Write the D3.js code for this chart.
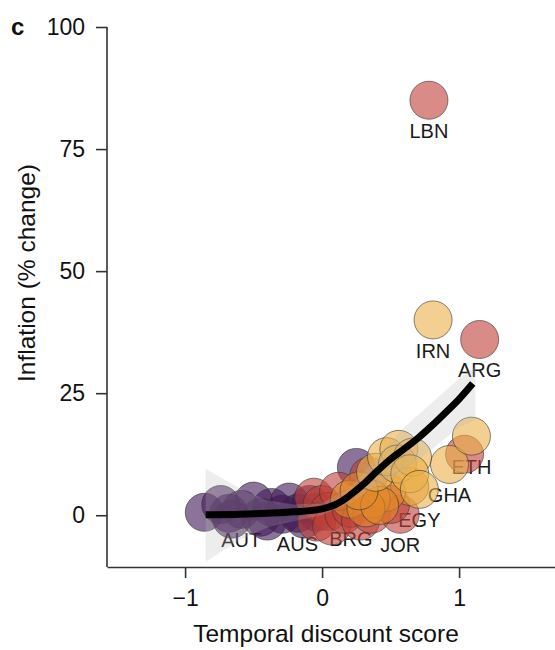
<!DOCTYPE html>
<html>
<head>
<meta charset="utf-8">
<script src="https://cdn.jsdelivr.net/npm/d3@7"></script>
<style>
  body { margin: 0; background: #fff; }
  svg text { font-family: "Liberation Sans", Arial, Helvetica, sans-serif; fill: #111; }
</style>
</head>
<body>
<svg id="chart" width="555" height="650"></svg>
<script>
// country points: temporal discount score (x) vs inflation (y)
const pointX = [
  -0.86, -0.74, -0.68, -0.66, -0.59, -0.50, -0.45, -0.40, -0.37, -0.29, -0.24, -0.18, -0.13, -0.09, -0.04, 0.25,
  -0.06, 0.00, 0.05, -0.04, 0.07, 0.16, 0.21, 0.28, 0.36, 0.57, 0.50, 0.12, 0.34, 1.04, 0.78, 1.15,
  0.64, 0.47, 0.36, 0.20, 0.32, 0.42, 0.27,
  0.81, 0.93, 1.09, 0.39, 0.47, 0.56, 0.55, 0.66, 0.64, 0.71
];
const pointY = [
  0.6, 2.2, 0.4, -0.8, 1.2, 2.9, -0.4, -1.2, 1.6, 0.2, 2.7, 0.4, -0.8, 2.2, 0.6, 9.8,
  3.7, 2.2, 0.8, -1.4, -2.2, 0.2, 1.4, -1.2, 0.2, 0.2, 2.2, 4.9, 8.0, 12.5, 85, 36,
  5.9, 4.7, 3.3, 3.3, 1.5, 2.0, 5.0,
  40, 10.4, 16.2, 8.8, 12.0, 13.5, 10.5, 11.9, 8.5, 5.3
];
const pointGroup = [
  "p","p","p","p","p","p","p","p","p","p","p","p","p","p","p","p",
  "r","r","r","r","r","r","r","r","r","r","r","r","r","r","r","r",
  "o","o","o","o","o","o","o",
  "y","y","y","y","y","y","y","y","y","y"
];
const pointLabel = [
  "","","","","AUT","","","","","","","AUS","","","","",
  "","","","","","","BRG","","","JOR","","","","","LBN","ARG",
  "","","","","","","",
  "IRN","GHA","ETH","","","","","","","EGY"
];

// smoothed fit and its confidence band
const fitX = [-0.85, -0.6, -0.4, -0.2, 0, 0.1, 0.2, 0.3, 0.4, 0.5, 0.6, 0.7, 0.8, 0.9, 1.0, 1.1];
const fitY = [0.1, 0.2, 0.4, 0.7, 1.3, 2.2, 4.0, 6.3, 9.0, 11.5, 13.6, 15.8, 18.3, 21.0, 23.8, 27.0];
const bandX = [-0.85, -0.6, -0.4, -0.2, 0, 0.2, 0.4, 0.6, 0.8, 1.0, 1.12];
const bandHi = [9.5, 5.5, 3.0, 2.2, 2.5, 5.5, 12.0, 18.0, 23.0, 28.0, 30.5];
const bandLo = [-9.5, -5.0, -2.5, -1.2, 0.0, 2.5, 6.0, 9.0, 13.5, 18.0, 19.5];

const xTicks = [-1, 0, 1];
const yTicks = [0, 25, 50, 75, 100];

const groupColor = {p: "#3f1655", r: "#c03f37", o: "#e3892a", y: "#ebb149"};

const svg = d3.select("#chart");
const padding = {top: 27, right: 0, bottom: 83, left: 107};
const width = 555, height = 650;

let x = d3.scaleLinear()
  .domain([-1.57, 1.70])
  .range([padding.left, width - padding.right]);
let y = d3.scaleLinear()
  .domain([-10.6, 100])
  .range([height - padding.bottom, padding.top]);

const data = pointX.map((d, i) => ({x: d, y: pointY[i], g: pointGroup[i], label: pointLabel[i]}));

// labels sit under the bubbles
svg.selectAll(".lab")
  .data(data.filter(d => d.label !== ""))
  .join("text")
    .attr("class", "lab")
    .attr("x", d => x(d.x))
    .attr("y", d => y(d.y - 6.3))
    .attr("dy", "0.36em")
    .attr("text-anchor", "middle")
    .attr("font-size", 20)
    .style("fill", "#1a1a1a")
    .text(d => d.label);

svg.selectAll(".pt")
  .data(data)
  .join("circle")
    .attr("class", "pt")
    .attr("cx", d => x(d.x))
    .attr("cy", d => y(d.y))
    .attr("r", 19)
    .attr("fill", d => groupColor[d.g])
    .attr("fill-opacity", 0.6)
    .attr("stroke", "#333")
    .attr("stroke-opacity", 0.6)
    .attr("stroke-width", 1);

// confidence band
const bandPts = bandX.map((d, i) => [d, bandHi[i]])
  .concat(bandX.map((d, i) => [d, bandLo[i]]).reverse());
svg.append("path")
  .attr("d", d3.line().x(d => x(d[0])).y(d => y(d[1]))(bandPts) + "Z")
  .attr("fill", "#b8b8b8")
  .attr("fill-opacity", 0.25);

// fitted line
svg.append("path")
  .datum(fitX.map((d, i) => [d, fitY[i]]))
  .attr("fill", "none")
  .attr("stroke", "#000")
  .attr("stroke-width", 7)
  .attr("d", d3.line().curve(d3.curveMonotoneX).x(d => x(d[0])).y(d => y(d[1])));

// axes
const yAxis = svg.append("g")
  .attr("transform", "translate(" + padding.left + ",0)")
  .call(d3.axisLeft(y).tickValues(yTicks).tickSize(11).tickPadding(11).tickSizeOuter(0));
const xAxis = svg.append("g")
  .attr("transform", "translate(0," + (height - padding.bottom) + ")")
  .call(d3.axisBottom(x).tickValues(xTicks).tickSize(11).tickPadding(12).tickSizeOuter(0)
    .tickFormat(d => d < 0 ? "\u2212" + Math.abs(d) : d));

[xAxis, yAxis].forEach(a => {
  a.select(".domain").attr("stroke", "#333").attr("stroke-width", 1.6);
  a.selectAll(".tick line").attr("stroke", "#333").attr("stroke-width", 1.6);
  a.selectAll(".tick text").attr("font-size", 23).style("fill", "#111")
    .attr("font-family", "'Liberation Sans', Arial, sans-serif");
});
// left axis line reaches down to the bottom of the panel
yAxis.select(".domain").attr("d", "M0," + y(100) + "V" + (height - padding.bottom));

// titles
svg.append("text")
  .attr("x", 11)
  .attr("y", 35)
  .attr("font-size", 24)
  .attr("font-weight", "bold")
  .text("c");

svg.append("text")
  .attr("transform", "rotate(-90)")
  .attr("x", -273)
  .attr("y", 35)
  .attr("text-anchor", "middle")
  .attr("font-size", 24.5)
  .text("Inflation (% change)");

svg.append("text")
  .attr("x", 326)
  .attr("y", 642)
  .attr("text-anchor", "middle")
  .attr("font-size", 24.5)
  .text("Temporal discount score");
</script>
</body>
</html>
